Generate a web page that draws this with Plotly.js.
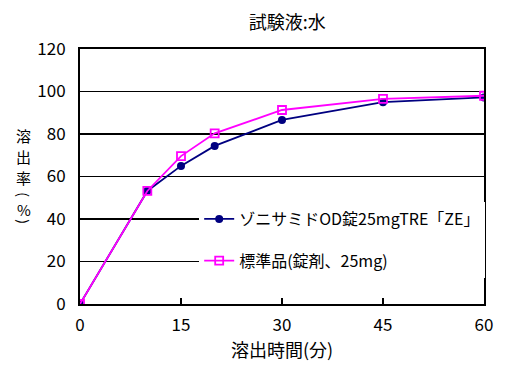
<!DOCTYPE html>
<html><head><meta charset="utf-8">
<script src="https://cdn.plot.ly/plotly-3.0.1.min.js"></script>
<style>body{margin:0;background:#fff}#c{width:530px;height:372px}</style>
</head><body><div id="c"></div>
<script>
const times = [0, 10, 15, 20, 30, 45, 60];
const seriesNames = ["ゾニサミドOD錠25mgTRE「ZE」", "標準品(錠剤、25mg)"];
const testValues = [0, 53.2, 65, 74.4, 86.6, 95, 97.2];
const refValues = [0, 53.2, 69.6, 80.3, 91.3, 96.5, 98];
const xTicks = [0, 15, 30, 45, 60];
const yTicks = [0, 20, 40, 60, 80, 100, 120];
const yTitleChars = ["溶", "出", "率", "(", "%", ")"];
const F = "'Noto Sans CJK JP', sans-serif";
const traces = [
  {x: times, y: testValues, name: seriesNames[0], mode: "lines+markers", legendgroup: "a",
   line: {color: "#000080", width: 1.8}, marker: {symbol: "circle", size: 8, color: "#000080"}},
  {x: times, y: refValues, name: seriesNames[1], mode: "lines+markers", legendgroup: "b",
   line: {color: "#ff00ff", width: 1.8}, marker: {symbol: "square-open", size: 8, color: "#ff00ff", line: {width: 1.8}}}
];
const plotTop = 49, plotH = 255;
const rowPx = [135, 156, 177, 195, 209, 222];
const annotations = yTitleChars.map((ch, i) => ({
  text: ch, xref: "paper", yref: "paper", x: -0.139, y: (plotTop + plotH - rowPx[i]) / plotH,
  xanchor: "center", yanchor: "middle", showarrow: false, borderpad: 0,
  textangle: (ch === "(" || ch === ")") ? 90 : 0,
  font: {family: F, size: (ch === "(" || ch === ")") ? 14 : 15}
}));
const layout = {
  width: 530, height: 372,
  margin: {l: 80, r: 46, t: 49, b: 68},
  paper_bgcolor: "#fff", plot_bgcolor: "#fff",
  font: {family: F, size: 16, color: "#000"},
  title: {text: "試験液:水", x: 0.542, xanchor: "center", y: 0.94, yanchor: "middle", font: {family: F, size: 18}},
  xaxis: {range: [0, 60], tickvals: xTicks, ticktext: xTicks.map(String), ticks: "inside", ticklen: 6, tickwidth: 1.5,
    tickcolor: "#000", showgrid: false, zeroline: false, showline: true, linecolor: "#000", linewidth: 2, mirror: true,
    ticklabelstandoff: 5,
    title: {text: "溶出時間(分)", font: {family: F, size: 18}, standoff: 8}, tickfont: {family: F, size: 17}},
  yaxis: {range: [0, 120], tickvals: yTicks, ticktext: yTicks.map(String), ticks: "", showgrid: true, gridcolor: "#000",
    gridwidth: 1.5, zeroline: false, showline: true, linecolor: "#000", linewidth: 2, mirror: true,
    ticklabelstandoff: 9, tickfont: {family: F, size: 17}},
  showlegend: true,
  legend: {x: 0.295, y: 0.40, xanchor: "left", yanchor: "top", bgcolor: "#fff", borderwidth: 0,
    traceorder: "grouped", tracegroupgap: 18, font: {family: F, size: 16}, itemwidth: 30},
  annotations: annotations
};
Plotly.newPlot("c", traces, layout, {displayModeBar: false, staticPlot: true});
</script></body></html>
